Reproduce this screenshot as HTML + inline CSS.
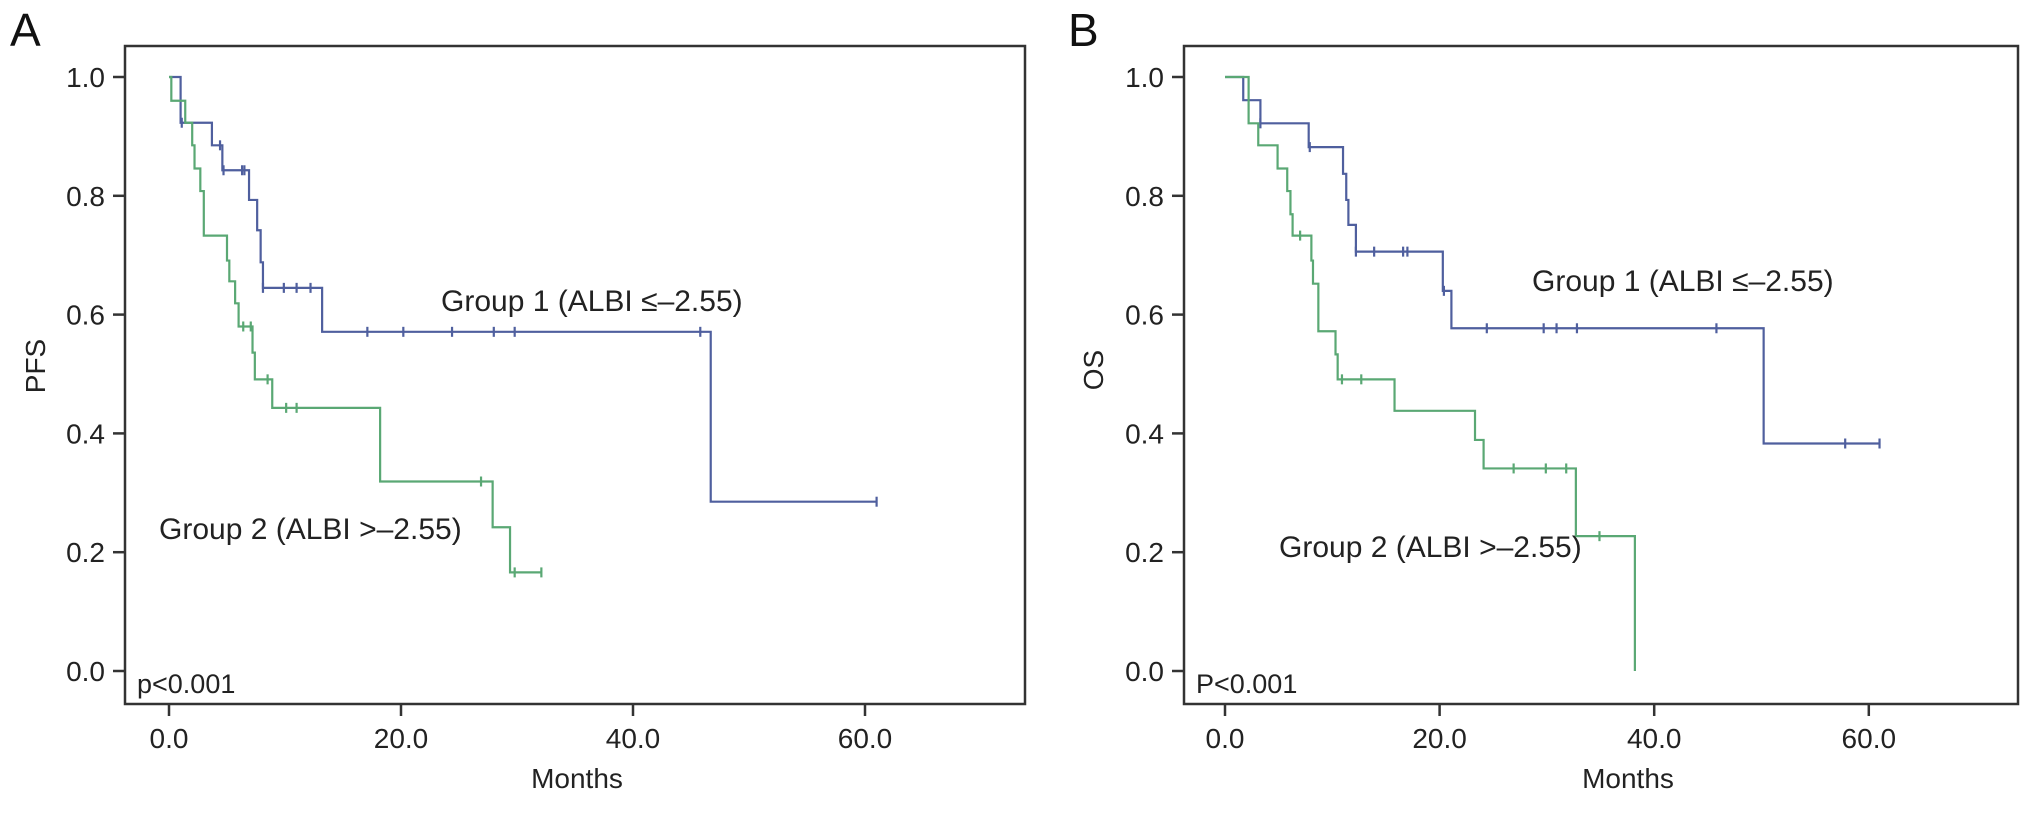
<!DOCTYPE html>
<html><head><meta charset="utf-8">
<style>
html,body{margin:0;padding:0;background:#fff;}
svg{display:block;font-family:"Liberation Sans",Arial,sans-serif;}
</style></head>
<body>
<svg id="chart" width="2032" height="819" viewBox="0 0 2032 819" xmlns="http://www.w3.org/2000/svg"></svg>
<script>
// Panel A (PFS) data
const pfsG1Times = [1.0, 3.7, 4.6, 6.9, 7.6, 7.9, 8.1, 13.2, 46.7];
const pfsG1Levels = [0.923, 0.885, 0.843, 0.793, 0.742, 0.688, 0.645, 0.571, 0.285];
const pfsG1End = 61.0;
const pfsG1Censor = [1.1, 4.4, 4.7, 6.3, 6.5, 8.1, 9.9, 11.0, 12.2, 17.1, 20.2, 24.4, 28.0, 29.8, 45.8, 61.0];
const pfsG2Times = [0.2, 1.4, 2.0, 2.2, 2.7, 3.0, 5.0, 5.2, 5.7, 6.0, 7.2, 7.4, 8.9, 18.2, 27.9, 29.4];
const pfsG2Levels = [0.96, 0.923, 0.885, 0.846, 0.808, 0.733, 0.691, 0.656, 0.619, 0.58, 0.536, 0.491, 0.443, 0.319, 0.242, 0.166];
const pfsG2End = 32.1;
const pfsG2Censor = [6.4, 7.05, 8.5, 10.1, 11.0, 26.9, 29.8, 32.1];
// Panel B (OS) data
const osG1Times = [1.7, 3.3, 7.8, 11.0, 11.3, 11.5, 12.2, 20.3, 21.1, 50.2];
const osG1Levels = [0.961, 0.922, 0.882, 0.837, 0.793, 0.751, 0.706, 0.640, 0.577, 0.383];
const osG1End = 61.0;
const osG1Censor = [3.3, 7.9, 12.2, 13.9, 16.6, 17.0, 20.4, 24.4, 29.7, 30.9, 32.8, 45.8, 57.8, 61.0];
const osG2Times = [2.2, 3.1, 4.9, 5.8, 6.1, 6.3, 8.05, 8.2, 8.7, 10.3, 10.5, 15.8, 23.3, 24.1, 32.7, 38.2];
const osG2Levels = [0.922, 0.885, 0.846, 0.808, 0.769, 0.733, 0.691, 0.652, 0.572, 0.533, 0.491, 0.438, 0.389, 0.341, 0.227, 0.0];
const osG2End = 38.2;
const osG2Censor = [7.0, 10.9, 12.7, 26.9, 29.9, 31.8, 34.9];
const xTicks = [0, 20, 40, 60];
const xTickLabels = ["0.0", "20.0", "40.0", "60.0"];
const yTicks = [0, 0.2, 0.4, 0.6, 0.8, 1.0];
const yTickLabels = ["0.0", "0.2", "0.4", "0.6", "0.8", "1.0"];

const NS = "http://www.w3.org/2000/svg";
const svg = document.getElementById("chart");
function mk(tag, attrs, parent, text) {
  const e = document.createElementNS(NS, tag);
  for (const k in attrs) e.setAttribute(k, attrs[k]);
  if (text !== undefined) e.textContent = text;
  (parent || svg).appendChild(e);
  return e;
}
const BLUE = "#4f5f9e", GREEN = "#5aa874", AX = "#333";

function panel(cfg) {
  const g = mk("g", {});
  
  
  const x = t => cfg.x0 + cfg.px * t;
  const y = v => cfg.y1 + (cfg.y0 - cfg.y1) * (1 - v);
  const box = mk("rect", {x: cfg.left, y: 46, width: cfg.right - cfg.left, height: 704 - 46, fill: "none", stroke: AX, "stroke-width": 2.5}, g);
  
  
  const letter = mk("text", {x: cfg.letterX, y: 46, "font-size": 46, fill: "#111"}, g, cfg.letter);
  
  
  // y axis
  yTicks.forEach((v, i) => {
    const tk = mk("line", {x1: cfg.left - 12, x2: cfg.left, y1: y(v), y2: y(v), stroke: AX, "stroke-width": 2.5}, g);
    
    
    const lb = mk("text", {x: cfg.left - 20, y: y(v) + 10, "font-size": 28, "text-anchor": "end", fill: "#222"}, g, yTickLabels[i]);
    
    
  });
  xTicks.forEach((t, i) => {
    const tk = mk("line", {x1: x(t), x2: x(t), y1: 704, y2: 716, stroke: AX, "stroke-width": 2.5}, g);
    
    
    const lb = mk("text", {x: x(t), y: 748, "font-size": 28, "text-anchor": "middle", fill: "#222"}, g, xTickLabels[i]);
    
    
  });
  const xt = mk("text", {x: cfg.monthsX, y: 788, "font-size": 28, "text-anchor": "middle", fill: "#222"}, g, "Months");
  
  
  const yt = mk("text", {x: 0, y: 0, "font-size": 28, "text-anchor": "middle", fill: "#222", transform: `translate(${cfg.yTitleX},${cfg.yTitleY}) rotate(-90)`}, g, cfg.yTitle);
  
  
  const pv = mk("text", {x: cfg.left + 12, y: 693, "font-size": 27, fill: "#222"}, g, cfg.pText);
  
  

  function curve(times, levels, end, censor, color, nm) {
    let d = `M${x(0)},${y(1)}`;
    let lv = 1;
    times.forEach((t, i) => { d += ` H${x(t)} V${y(levels[i])}`; lv = levels[i]; });
    d += ` H${x(end)}`;
    const p = mk("path", {d: d, fill: "none", stroke: color, "stroke-width": 2.2}, g);
    
    
    censor.forEach(c => {
      let v = 1;
      times.forEach((t, i) => { if (t <= c) v = levels[i]; });
      const m = mk("line", {x1: x(c), x2: x(c), y1: y(v) - 5, y2: y(v) + 5, stroke: color, "stroke-width": 2.2}, g);
      
      
    });
  }
  curve(cfg.g1t, cfg.g1l, cfg.g1e, cfg.g1c, BLUE, 'group1-curve');
  curve(cfg.g2t, cfg.g2l, cfg.g2e, cfg.g2c, GREEN, 'group2-curve');
  const l1 = mk("text", {x: cfg.g1lx, y: cfg.g1ly, "font-size": 30, fill: "#222"}, g, "Group 1 (ALBI \u2264\u20132.55)");
  
  
  const l2 = mk("text", {x: cfg.g2lx, y: cfg.g2ly, "font-size": 30, fill: "#222"}, g, "Group 2 (ALBI >\u20132.55)");
  
  
}

panel({name: 'panel-a-pfs', left: 125, right: 1025, x0: 169, px: 11.6, y0: 671, y1: 77,
  letter: "A", letterX: 10, yTitle: "PFS", yTitleX: 45, yTitleY: 366, monthsX: 577, pText: "p<0.001",
  g1t: pfsG1Times, g1l: pfsG1Levels, g1e: pfsG1End, g1c: pfsG1Censor,
  g2t: pfsG2Times, g2l: pfsG2Levels, g2e: pfsG2End, g2c: pfsG2Censor,
  g1lx: 441, g1ly: 311, g2lx: 159, g2ly: 539});
panel({name: 'panel-b-os', left: 1184, right: 2018, x0: 1225, px: 10.73, y0: 671, y1: 77,
  letter: "B", letterX: 1068, yTitle: "OS", yTitleX: 1103, yTitleY: 370, monthsX: 1628, pText: "P<0.001",
  g1t: osG1Times, g1l: osG1Levels, g1e: osG1End, g1c: osG1Censor,
  g2t: osG2Times, g2l: osG2Levels, g2e: osG2End, g2c: osG2Censor,
  g1lx: 1532, g1ly: 291, g2lx: 1279, g2ly: 557});
</script>
</body></html>
